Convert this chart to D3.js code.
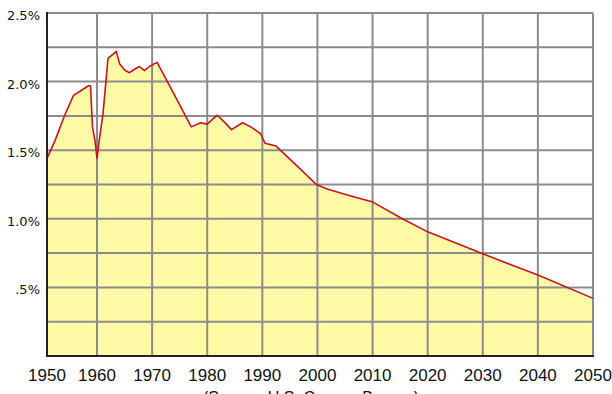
<!DOCTYPE html>
<html>
<head>
<meta charset="utf-8">
<script src="https://cdn.jsdelivr.net/npm/d3@7"></script>
<style>
  body { margin: 0; background: #fff; overflow: hidden; }
  svg { display: block; }
</style>
</head>
<body>
<div id="chart"></div>
<script>
// population growth rate (%)
const years = [1950, 1951.6, 1953.6, 1955.3, 1956.6, 1958.3, 1958.7, 1959.1, 1959.6, 1960,
    1960.4, 1961.1, 1962, 1962.6, 1963.5, 1964.1, 1965, 1965.9, 1966.8, 1967.7,
    1968.6, 1969.5, 1970.9, 1973.3, 1975.8, 1977.1, 1978.8, 1980, 1981.8, 1983,
    1984.4, 1986.4, 1987.9, 1989.7, 1990.5, 1992.5, 1994.6, 1997.1, 1999.8, 2001.9,
    2006.2, 2009.9, 2015, 2020, 2030, 2040, 2050];
const rates = [1.44, 1.57, 1.76, 1.90, 1.93, 1.97, 1.97, 1.67, 1.57, 1.44,
    1.57, 1.77, 2.17, 2.19, 2.22, 2.13, 2.085, 2.065, 2.09, 2.11,
    2.08, 2.11, 2.14, 1.96, 1.77, 1.67, 1.70, 1.69, 1.755, 1.71,
    1.65, 1.70, 1.67, 1.62, 1.55, 1.53, 1.45, 1.355, 1.25, 1.215,
    1.165, 1.125, 1.01, 0.905, 0.745, 0.59, 0.42];
const xTicks = [1950, 1960, 1970, 1980, 1990, 2000, 2010, 2020, 2030, 2040, 2050];
const yGrid = [0, 0.25, 0.5, 0.75, 1, 1.25, 1.5, 1.75, 2, 2.25, 2.5];
const yLabels = [0.5, 1, 1.5, 2, 2.5];
const source = "(Source: U.S. Census Bureau)";

const width = 612,
    height = 394;

const data = years.map((y, i) => ({ year: y, rate: rates[i] }));

const svg = d3.select("#chart")
    .append("svg")
    .attr("width", width)
    .attr("height", height);

// the first decade is drawn a little narrower in the original
const x = d3.scaleLinear()
    .domain([1950, 1960, 2050])
    .range([47, 97, 593]);

const y = d3.scaleLinear()
    .domain([0, 2.5])
    .range([356, 13]);

// area under the curve
const area = d3.area()
    .x(d => x(d.year))
    .y0(y(0))
    .y1(d => y(d.rate));

svg.append("path")
    .datum(data)
    .attr("fill", "#fffaa6")
    .attr("d", area);

// grid
svg.append("g")
    .selectAll("line")
    .data(yGrid)
    .enter()
    .append("line")
    .attr("x1", x(1950))
    .attr("x2", x(2050))
    .attr("y1", d => y(d))
    .attr("y2", d => y(d))
    .attr("stroke", "#8c8c8c")
    .attr("stroke-width", 2);

svg.append("g")
    .selectAll("line")
    .data(xTicks)
    .enter()
    .append("line")
    .attr("x1", d => x(d))
    .attr("x2", d => x(d))
    .attr("y1", y(2.5))
    .attr("y2", y(0))
    .attr("stroke", "#8c8c8c")
    .attr("stroke-width", 2);

// the curve
const line = d3.line()
    .x(d => x(d.year))
    .y(d => y(d.rate));

svg.append("path")
    .datum(data)
    .attr("fill", "none")
    .attr("stroke", "#c8141e")
    .attr("stroke-width", 1.6)
    .attr("stroke-linejoin", "round")
    .attr("d", line);

// left and bottom axis lines
svg.append("line")
    .attr("x1", x(1950)).attr("x2", x(1950))
    .attr("y1", y(2.5) - 1).attr("y2", y(0) + 1)
    .attr("stroke", "#222").attr("stroke-width", 2);
svg.append("line")
    .attr("x1", x(1950) - 1).attr("x2", x(2050) + 1)
    .attr("y1", y(0)).attr("y2", y(0))
    .attr("stroke", "#222").attr("stroke-width", 2);

// tick labels
svg.append("g")
    .selectAll("text")
    .data(yLabels)
    .enter()
    .append("text")
    .attr("x", 40)
    .attr("y", d => y(d) + 7)
    .attr("text-anchor", "end")
    .attr("font-family", "DejaVu Sans, Verdana, sans-serif")
    .attr("font-size", 13)
    .attr("fill", "#111")
    .text(d => (d < 1 ? d3.format(".1f")(d).slice(1) : d3.format(".1f")(d)) + "%");

svg.append("g")
    .selectAll("text")
    .data(xTicks)
    .enter()
    .append("text")
    .attr("x", d => x(d))
    .attr("y", 381)
    .attr("text-anchor", "middle")
    .attr("font-family", "Liberation Sans Narrow, Arial Narrow, sans-serif")
    .attr("font-size", 17)
    .attr("fill", "#111")
    .text(d => d);

// source line, cut off by the bottom edge
svg.append("text")
    .attr("x", 311)
    .attr("y", 403)
    .attr("text-anchor", "middle")
    .attr("font-family", "Liberation Sans Narrow, Arial Narrow, sans-serif")
    .attr("font-size", 16)
    .attr("fill", "#111")
    .text(source);
</script>
</body>
</html>
